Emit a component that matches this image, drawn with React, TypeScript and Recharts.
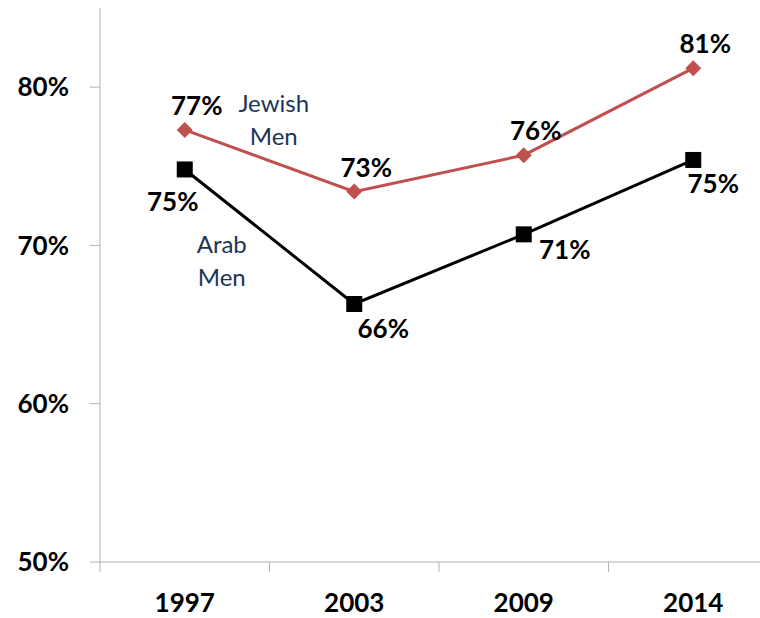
import { LineChart, Line, XAxis, YAxis, LabelList } from 'recharts'

const years = ['1997', '2003', '2009', '2014']
const jewishMen = [77.3, 73.4, 75.7, 81.2]
const arabMen = [74.8, 66.3, 70.7, 75.4]
const yTicks = [50, 60, 70, 80]

// where each Arab value label sits relative to its marker
const arabLabelOffsets = [
  [-12, 32],
  [29, 24],
  [41, 15],
  [20, 23],
]

const data = years.map((year, i) => ({
  year,
  jewish: jewishMen[i],
  arab: arabMen[i],
}))

const CHART_W = 800
const CHART_H = 618
const Y_AXIS_W = 100
const MARGIN_R = 22
const HALF_BAND = (CHART_W - Y_AXIS_W - MARGIN_R) / years.length / 2

const AXIS = '#b3b3b3'
const RED = '#c0504d'
const NAVY = '#1b3557'
const FONT = 'Lato, "Open Sans", "Liberation Sans", sans-serif'

const pct = (v: number) => `${Math.round(v)}%`

const YearTick = (props: any) => {
  const { x, y, payload } = props
  return (
    <g>
      <line x1={x - HALF_BAND} x2={x - HALF_BAND} y1={y} y2={y + 10} stroke={AXIS} strokeWidth={1} />
      <text
        x={x}
        y={y + 40}
        textAnchor="middle"
        dominantBaseline="central"
        fontFamily={FONT}
        fontWeight={700}
        fontSize={26}
        fill="#000"
      >
        {payload.value}
      </text>
    </g>
  )
}

const Diamond = (props: any) => {
  const { cx, cy } = props
  if (cx == null || cy == null) return null
  const r = 8
  return <path d={`M${cx},${cy - r}L${cx + r},${cy}L${cx},${cy + r}L${cx - r},${cy}Z`} fill={RED} />
}

const Square = (props: any) => {
  const { cx, cy } = props
  if (cx == null || cy == null) return null
  return <rect x={cx - 8} y={cy - 8} width={16} height={16} fill="#000" />
}

const valueText = (x: number, y: number, v: number) => (
  <text
    x={x}
    y={y}
    textAnchor="middle"
    dominantBaseline="central"
    fontFamily={FONT}
    fontWeight={700}
    fontSize={26}
    fill="#000"
  >
    {pct(v)}
  </text>
)

const nameText = (x: number, y: number, lines: string[]) => (
  <text textAnchor="middle" fontFamily={FONT} fontSize={24} fill={NAVY}>
    {lines.map((l, i) => (
      <tspan key={l} x={x} y={y + i * 33} dominantBaseline="central">
        {l}
      </tspan>
    ))}
  </text>
)

const JewishLabel = (props: any) => {
  const { x, y, value, index } = props
  return (
    <g>
      {valueText(x + 12, y - 25, value)}
      {index === 0 && nameText(x + 89, y - 27, ['Jewish', 'Men'])}
    </g>
  )
}

const ArabLabel = (props: any) => {
  const { x, y, value, index } = props
  const [dx, dy] = arabLabelOffsets[index]
  return (
    <g>
      {valueText(x + dx, y + dy, value)}
      {index === 0 && nameText(x + 37, y + 74, ['Arab', 'Men'])}
    </g>
  )
}

const App = () => {
  return (
    <div style={{ position: 'absolute', left: 0, top: 0, width: 760, height: 618, overflow: 'hidden', background: '#fff' }}>
      <LineChart
        width={CHART_W}
        height={CHART_H}
        data={data}
        margin={{ top: 8, right: MARGIN_R, bottom: 0, left: 0 }}
      >
        <XAxis
          dataKey="year"
          height={56}
          padding={{ left: HALF_BAND, right: HALF_BAND }}
          axisLine={{ stroke: AXIS, strokeWidth: 1 }}
          tickLine={false}
          tickSize={0}
          tickMargin={0}
          tick={<YearTick />}
          interval={0}
        />
        <YAxis
          width={Y_AXIS_W}
          domain={[50, 85]}
          ticks={yTicks}
          tickFormatter={(v: number) => `${v}%`}
          axisLine={{ stroke: AXIS, strokeWidth: 1 }}
          tickLine={{ stroke: AXIS, strokeWidth: 1 }}
          tickSize={10}
          tickMargin={21}
          tick={{ fontFamily: FONT, fontWeight: 700, fontSize: 26, fill: '#000' }}
        />
        <Line
          dataKey="jewish"
          stroke={RED}
          strokeWidth={3}
          dot={<Diamond />}
          activeDot={false}
          isAnimationActive={false}
        >
          <LabelList dataKey="jewish" content={<JewishLabel />} />
        </Line>
        <Line
          dataKey="arab"
          stroke="#000"
          strokeWidth={3}
          dot={<Square />}
          activeDot={false}
          isAnimationActive={false}
        >
          <LabelList dataKey="arab" content={<ArabLabel />} />
        </Line>
      </LineChart>
    </div>
  )
}

export default App
